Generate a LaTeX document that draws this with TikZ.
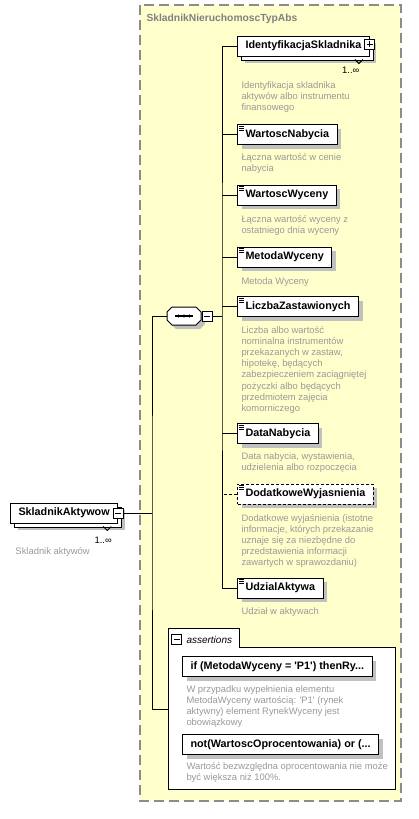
\documentclass[tikz,border=0pt]{standalone}
\usepackage{fontspec}
\setmainfont{Liberation Sans}
\usetikzlibrary{positioning, shadows}
\definecolor{xsyellow}{HTML}{FFFFCC}
\definecolor{xsframe}{HTML}{8C8C8C}
\definecolor{xsgray}{HTML}{999999}
\definecolor{xsshadow}{HTML}{C0C0C0}
\definecolor{xstitle}{HTML}{808080}

\begin{document}
\begin{tikzpicture}[x=1pt, y=-1pt, line width=1pt,
    box/.style={draw, fill=white, anchor=west, minimum height=20pt, inner xsep=8pt, inner ysep=0pt,
                font=\fontsize{10.8pt}{13pt}\selectfont\bfseries},
    shade/.style={drop shadow={shadow xshift=4pt, shadow yshift=-4pt, fill=xsshadow, opacity=1}},
    elem/.style={box, shade, path picture={
        \foreach \k in {1.5,3.5,5.5}
          \draw[solid, line width=0.8pt] ([shift={(1.5pt,-\k pt)}]path picture bounding box.north west) -- ++(5,0);}},
    multi/.style={box, drop shadow={shadow xshift=7pt, shadow yshift=-7pt, fill=xsshadow, opacity=1},
                  copy shadow={shadow xshift=4pt, shadow yshift=-4pt, draw=black, fill=white}},
    opt/.style={dash pattern=on 3pt off 2pt},
    % anchored at the baseline of the last line
    desc/.style={anchor=base west, align=left, inner sep=0pt, text=xsgray,
                 font=\fontsize{9.4pt}{11.2pt}\selectfont},
    mult/.style={anchor=base east, inner sep=0pt, font=\fontsize{9.4pt}{11pt}\selectfont},
    tog/.style={draw, fill=white, minimum size=10pt, inner sep=0pt, line width=0.8pt},
    minus/.style={tog, path picture={\draw ([xshift=2pt]path picture bounding box.west) -- ++(6,0);}},
    plus/.style={tog, path picture={\draw ([xshift=2pt]path picture bounding box.west) -- ++(6,0);
                 \draw ([yshift=-2pt]path picture bounding box.north) -- ++(0,6);}},
    grpframe/.style={draw=xsframe, fill=xsyellow, line width=1.2pt, dash pattern=on 10pt off 5pt}]
  \useasboundingbox (0,0) rectangle (419,819);

  % root element
  \node[multi] (root) at (10,513) {SkladnikAktywow};
  \node[minus] (rootm) at (root.east) {};
  \draw ([shift={(-15pt,-3pt)}]root.south east) -- ++(4,4) -- ++(4,-4);
  \node[mult] (rootn) at ([shift={(-6pt,-20pt)}]root.south east) {1..∞};
  \node[desc] (rootd) at (15,554) {Skladnik aktywów};

  % complex type
  \draw[grpframe] (140,5) rectangle (401,801);
  \node[anchor=base west, inner sep=0pt, text=xstitle, font=\fontsize{10.3pt}{12pt}\selectfont\bfseries]
    (grpt) at (146,21) {SkladnikNieruchomoscTypAbs};

  % sequence
  \fill[xsshadow, shift={(4,4)}] (172,307) -- (196,307) -- (201,312) -- (201,320) -- (196,325)
    -- (172,325) -- (167,320) -- (167,312) -- cycle;
  \draw[fill=white] (172,307) -- (196,307) -- (201,312) -- (201,320) -- (196,325)
    -- (172,325) -- (167,320) -- (167,312) -- cycle;
  \node[minimum width=34pt, minimum height=18pt, inner sep=0pt] (seq) at (184,316) {};
  \node[minus, right=0pt of seq] (seqm) {};
  \draw[line width=1.4pt] ([xshift=-9pt]seq.center) -- ([xshift=9pt]seq.center);
  \foreach \dx in {-5.5,0,5.5}
    \fill ([xshift=\dx pt]seq.center) circle (1.7);

  % children
  \node[multi] (ident) at (237,46) {IdentyfikacjaSkladnika};
  \node[plus] (identp) at ([yshift=2pt]ident.east) {};
  \draw ([shift={(-15pt,-3pt)}]ident.south east) -- ++(4,4) -- ++(4,-4);
  \node[mult] (identn) at ([shift={(-10pt,-17pt)}]ident.south east) {1..∞};
  \node[desc] (identd) at (241,110.4) {Identyfikacja skladnika\\aktywów albo instrumentu\\finansowego};

  \node[elem] (wn) at (237,134.5) {WartoscNabycia};
  \node[desc] (wnd) at (241,171.2) {Łączna wartość w cenie\\nabycia};

  \node[elem] (ww) at (237,195) {WartoscWyceny};
  \node[desc] (wwd) at (241,233.2) {Łączna wartość wyceny z\\ostatniego dnia wyceny};

  \node[elem] (mw) at (237,257) {MetodaWyceny};
  \node[desc] (mwd) at (241,284) {Metoda Wyceny};

  \node[elem] (lz) at (237,306.5) {LiczbaZastawionych};
  \node[desc] (lzd) at (241,411.4) {Liczba albo wartość\\nominalna instrumentów\\przekazanych w zastaw,\\hipotekę, będących\\zabezpieczeniem zaciągniętej\\pożyczki albo będących\\przedmiotem zajęcia\\komorniczego};

  \node[elem] (dn) at (237,433.5) {DataNabycia};
  \node[desc] (dnd) at (241,470.2) {Data nabycia, wystawienia,\\udzielenia albo rozpoczęcia};

  \node[elem, opt] (dw) at (237,494) {DodatkoweWyjasnienia};
  \node[desc] (dwd) at (241,565.8) {Dodatkowe wyjaśnienia (istotne\\informacje, których przekazanie\\uznaje się za niezbędne do\\przedstawienia informacji\\zawartych w sprawozdaniu)};

  \node[elem] (ua) at (237,588) {UdzialAktywa};
  \node[desc] (uad) at (241,614) {Udział w aktywach};

  % connectors
  \coordinate (bus1) at (152,513);
  \coordinate (bus2) at (222,316);
  \coordinate (asrt) at (168,709);
  \draw (rootm.east) -- (bus1);
  \draw (seq.west) -| (bus1) |- (asrt);
  \draw (seqm.east) -- (bus2);
  \draw (ident.west) -| (bus2) |- (ua.west);
  \foreach \n in {wn,ww,mw,lz,dn}
    \draw (\n.west) -- (\n.west -| bus2);
  \draw[opt] (dw.west) -- (dw.west -| bus2);

  % assertions
  \draw[fill=white] (168,789) -- (168,628) -- (239,628) -- (239,647) -- (395,647) -- (395,789) -- cycle;
  \node[minus] (asm) at (176.5,639.5) {};
  \node[anchor=base west, inner sep=0pt, font=\fontsize{10pt}{12pt}\selectfont\itshape] (ast) at (186,643) {assertions};
  \node[box, shade] (as1) at (182,666.5) {if (MetodaWyceny = \textquotesingle P1\textquotesingle) thenRy...};
  \node[desc] (as1d) at (186,725.6) {W przypadku wypełnienia elementu\\MetodaWyceny wartością: \textquotesingle P1\textquotesingle{} (rynek\\aktywny) element RynekWyceny jest\\obowiązkowy};
  \node[box, shade] (as2) at (182,744.5) {not(WartoscOprocentowania) or (...};
  \node[desc] (as2d) at (186,780.2) {Wartość bezwzględna oprocentowania nie może\\być większa niż 100\%.};
\end{tikzpicture}
\end{document}
